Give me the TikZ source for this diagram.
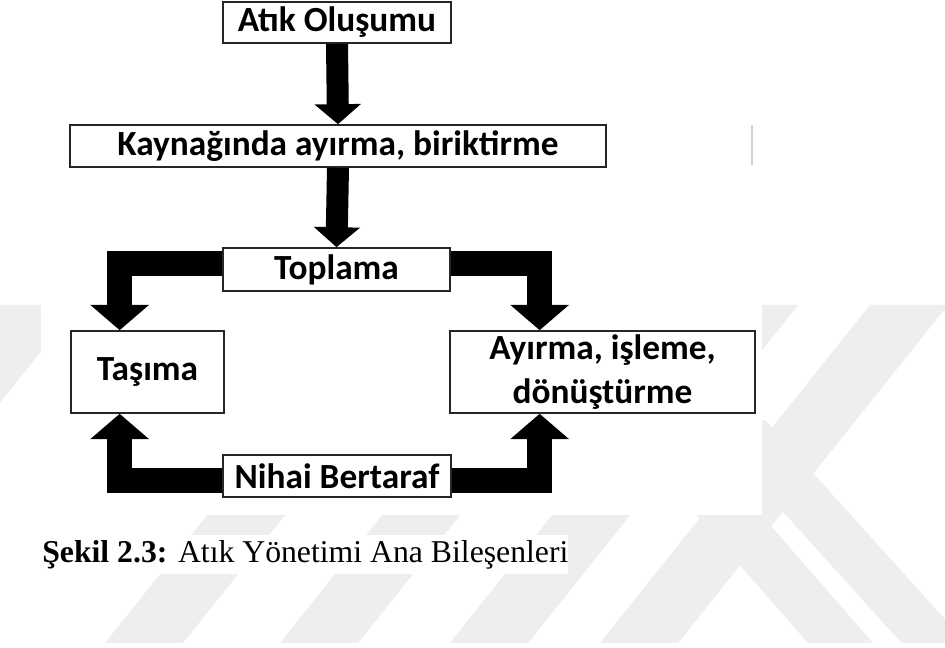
\documentclass[tikz,border=0pt]{standalone}
\usepackage{fontspec}
\setmainfont{Liberation Serif}
\newfontfamily\calib{Carlito}
\usetikzlibrary{arrows.meta,calc}
\definecolor{wm}{HTML}{EEEEEE}
\definecolor{boxline}{HTML}{262626}
\begin{document}
\begin{tikzpicture}[x=0.75pt,y=-0.75pt,
  box/.style={draw=boxline,line width=1.2pt,fill=white,inner sep=0pt,align=center,
    font=\calib\bfseries\fontsize{26.5}{33}\selectfont},
  blk/.style={line width=16.5pt,-{Triangle[width=34pt,length=15pt]}},
  elb/.style={line width=18.75pt,-{Triangle[width=43pt,length=19pt]}},
  wmark/.style={fill=wm,draw=none}]
\useasboundingbox (0,0) rectangle (945,648);
\fill[white] (0,0) rectangle (945,648);
% watermark
\begin{scope}
\clip (0,305) rectangle (945,642);
\foreach \b in {-270,105,280,450,600}{
  \fill[wmark] (\b+270,305) -- (\b+348,305) -- (\b+78,643) -- (\b,643) -- cycle;
}
\fill[wmark] (700,420) -- (765,420) -- (1000,680) -- (935,680) -- cycle;
\fill[wmark] (640,450) -- (705,450) -- (905,680) -- (840,680) -- cycle;
\end{scope}
\fill[white] (41,290) rectangle (762,515);
% artifact line
\draw[color=black!18,line width=1.4pt] (752,125) -- (752,165);
% boxes
\node[box,minimum width=171pt,minimum height=30.75pt] (atik) at (337,22.5) {Atık Oluşumu};
\node[box,minimum width=402pt,minimum height=31.5pt] (kay) at (338,146) {Kaynağında ayırma, biriktirme};
\node[box,minimum width=170.25pt,minimum height=32.25pt] (topl) at (336.5,269.5) {Toplama};
\node[box,minimum width=114.75pt,minimum height=61.5pt] (tas) at (147.5,372) {Taşıma};
\node[box,minimum width=228.75pt,minimum height=61.5pt] (ayr) at (602.5,372) {Ayırma, işleme,\\dönüştürme};
\node[box,minimum width=171pt,minimum height=31.5pt] (nih) at (337,476) {Nihai Bertaraf};
% arrows
\draw[blk] (atik.south) -- (kay.north);
\draw[blk] (kay.south) -- (topl.north);
\draw[elb] ($(topl.west)+(0,-5.5)$) -| ($(tas.north west)!0.32!(tas.north east)$);
\draw[elb] ($(topl.east)+(0,-5.5)$) -| ($(ayr.north west)!0.295!(ayr.north east)$);
\draw[elb] ($(nih.west)+(0,4)$) -| ($(tas.south west)!0.32!(tas.south east)$);
\draw[elb] ($(nih.east)+(0,4)$) -| ($(ayr.south west)!0.295!(ayr.south east)$);
% caption
\node[anchor=base west,inner xsep=0pt,inner ysep=4pt,fill=white,font=\fontsize{23.8}{28}\selectfont] (cap) at (42,562) {\textbf{Şekil 2.3:} Atık Yönetimi Ana Bileşenleri};
\end{tikzpicture}
\end{document}
